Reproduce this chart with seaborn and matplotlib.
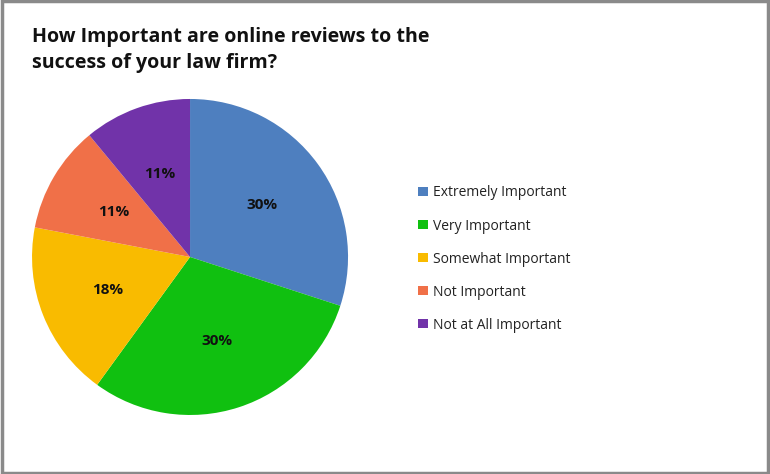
import matplotlib
matplotlib.use("Agg")
import matplotlib.pyplot as plt
from matplotlib.patches import Patch, Rectangle
import seaborn as sns

# ==========================================
# DATA
# ==========================================
title = "How Important are online reviews to the\nsuccess of your law firm?"
categories = ["Extremely Important", "Very Important", "Somewhat Important",
              "Not Important", "Not at All Important"]
shares = [30, 30, 18, 11, 11]
slice_colors = ["#4e7fbf", "#10c010", "#f9bb00", "#f07048", "#7133a9"]

# ==========================================
# PLOT
# ==========================================
sns.set_theme(style="white")
plt.rcParams['font.family'] = ['Open Sans', 'DejaVu Sans']
palette = sns.color_palette(slice_colors)

fig = plt.figure(figsize=(7.7, 4.74), dpi=100)
fig.patch.set_facecolor("white")

# pie axes placed so the circle sits on the left half
ax = fig.add_axes([0.2468 - 0.2052, 0.4578 - 0.3333, 0.4104, 0.6667])
wedges, texts, autotexts = ax.pie(
    shares, colors=palette, startangle=90, counterclock=False,
    autopct='%.0f%%', pctdistance=0.56,
    wedgeprops=dict(linewidth=0, edgecolor="white"),
    textprops=dict(fontsize=11, fontweight="bold", color="#111111"))
ax.set_xlim(-1, 1)
ax.set_ylim(-1, 1)
ax.set_aspect("equal")

fig.text(32 / 770, 1 - 27 / 474, title, fontsize=14.1, fontweight="bold",
         color="#111111", ha="left", va="top", linespacing=1.4)

handles = [Patch(facecolor=c, edgecolor="none") for c in palette]
fig.legend(handles, categories, loc="upper left",
           bbox_to_anchor=(406 / 770, 1 - 173 / 474), frameon=False,
           fontsize=10, handlelength=0.65, handleheight=0.65,
           handletextpad=0.4, labelspacing=1.3, labelcolor="#222222")

# grey frame round the whole picture
fig.patches.append(Rectangle((0.002, 0.003), 0.996, 0.994, transform=fig.transFigure,
                             fill=False, edgecolor="#8a8a8a", linewidth=2.5))

fig.savefig("out.png", dpi=100, facecolor="white")
